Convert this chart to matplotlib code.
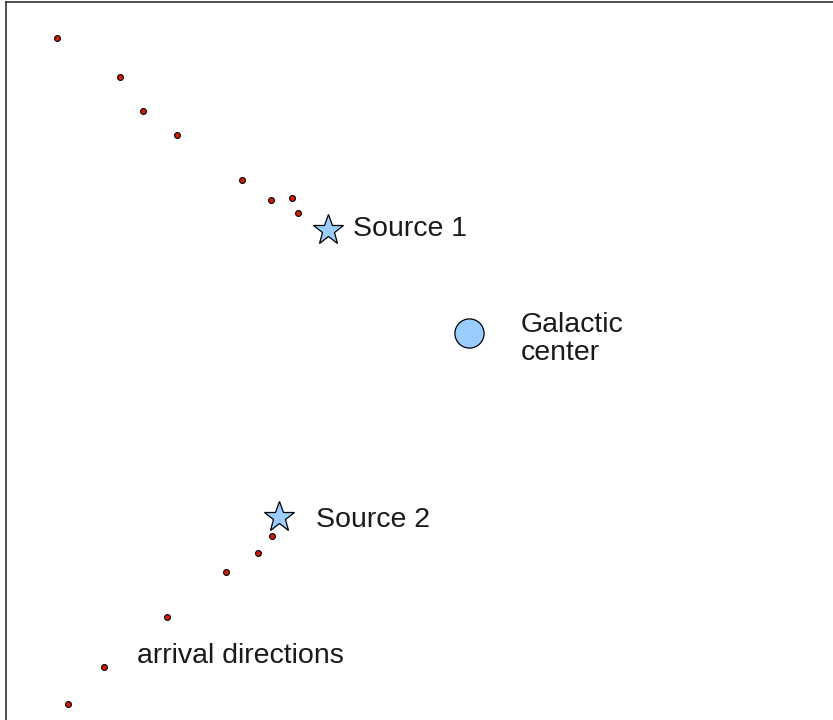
import matplotlib.pyplot as plt

plt.rcParams['font.family'] = ['Liberation Sans', 'DejaVu Sans']

# arrival directions (pixel positions)
arrival_x = [57, 120, 143, 177, 242, 271, 292, 298, 272, 258, 226, 167, 104, 68]
arrival_y = [38, 77, 111, 135, 180, 200, 198, 213, 536, 553, 572, 617, 667, 704]

source_x = [328, 279]
source_y = [230, 517]
source_names = ["Source 1", "Source 2"]

center_x = [469]
center_y = [333]

fig = plt.figure(figsize=(8.33, 7.2), dpi=100)
ax = fig.add_axes([0, 0, 1, 1])
ax.set_xlim(0, 833)
ax.set_ylim(720, 0)
ax.axis('off')

# frame (left and top edges only)
ax.plot([6.5, 6.5], [1.5, 720], color='#333333', lw=1.2)
ax.plot([6.5, 833], [1.5, 1.5], color='#333333', lw=1.2)

ax.plot(arrival_x, arrival_y, 'o', ms=4.2, mfc='#d42000', mec='black', mew=0.8)
ax.plot(source_x, source_y, '*', ms=23, mfc='#99ccff', mec='black', mew=0.9)
ax.plot(center_x, center_y, 'o', ms=21, mfc='#99ccff', mec='black', mew=0.9)

fs = 20.5
ax.text(353, 236, source_names[0], fontsize=fs, va='baseline', color='#1a1a1a')
ax.text(316.5, 527, source_names[1], fontsize=fs, va='baseline', color='#1a1a1a')
ax.text(520.5, 332, "Galactic", fontsize=fs, va='baseline', color='#1a1a1a')
ax.text(520.5, 360, "center", fontsize=fs, va='baseline', color='#1a1a1a')
ax.text(137, 663, "arrival directions", fontsize=fs, va='baseline', color='#1a1a1a')

fig.savefig('out.png', dpi=100)
